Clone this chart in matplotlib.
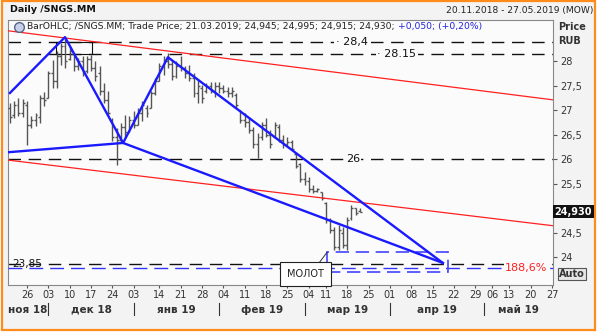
"""
Daily OHLC chart of /SNGS.MM with drawn trend lines and levels.
"""

import numpy as np
import pandas as pd
import matplotlib
matplotlib.use("Agg")
import matplotlib.pyplot as plt
from matplotlib.patches import Rectangle
from matplotlib.transforms import blended_transform_factory

# ---- data -------------------------------------------------------------
holidays = ["2018-12-31", "2019-01-01", "2019-01-02", "2019-01-07",
            "2019-03-08", "2019-05-01", "2019-05-09"]
dates = pd.bdate_range("2018-11-20", "2019-05-27", freq="C", holidays=holidays)

highs = [27.14, 27.18, 27.24, 27.22, 27.18, 26.88, 26.94, 27.30, 27.38, 27.80,
         28.02, 28.20, 28.37, 28.45, 28.30, 28.16, 28.06, 28.10, 28.10, 28.12,
         28.00, 27.90, 27.55, 27.39, 26.84, 26.63, 26.73, 26.90, 26.88, 26.98,
         27.05, 27.18, 27.10, 27.40, 27.65, 27.96, 28.10, 28.16, 28.02, 28.00,
         28.10, 27.90, 27.92, 27.76, 27.61, 27.51, 27.55, 27.57, 27.57, 27.57,
         27.51, 27.47, 27.47, 27.35, 27.00, 26.94, 26.86, 26.65, 26.53, 26.76,
         26.84, 26.59, 26.76, 26.72, 26.49, 26.45, 26.39, 26.12, 25.92, 25.73,
         25.63, 25.47, 25.41, 25.33, 25.12, 24.80, 24.61, 24.65, 24.61, 24.82,
         25.06, 25.00, 24.995]
lows = [26.73, 26.84, 26.88, 26.85, 26.29, 26.63, 26.67, 26.73, 27.08, 27.24,
        27.45, 27.45, 27.92, 27.86, 28.02, 27.80, 27.82, 27.70, 27.75, 27.80,
        27.60, 27.30, 27.14, 26.90, 26.37, 25.88, 26.37, 26.43, 26.55, 26.63,
        26.70, 26.78, 26.85, 27.04, 27.30, 27.59, 27.71, 27.86, 27.61, 27.65,
        27.80, 27.65, 27.60, 27.27, 27.14, 27.14, 27.35, 27.35, 27.27, 27.35,
        27.35, 27.27, 27.27, 27.04, 26.73, 26.65, 26.53, 26.22, 26.02, 26.39,
        26.45, 26.22, 26.43, 26.35, 26.22, 26.24, 26.18, 25.82, 25.53, 25.47,
        25.33, 25.31, 25.33, 25.16, 24.69, 24.49, 24.14, 24.14, 24.18, 24.14,
        24.76, 24.86, 24.915]
opens = [27.05, 26.90, 27.10, 26.95, 27.10, 26.70, 26.80, 26.85, 27.25, 27.25,
         27.75, 27.60, 28.10, 28.30, 28.05, 28.15, 27.90, 28.00, 27.80, 28.05,
         27.85, 27.75, 27.40, 27.20, 26.80, 26.45, 26.40, 26.65, 26.55, 26.80,
         26.70, 26.95, 27.05, 27.05, 27.35, 27.60, 27.90, 28.00, 27.95, 27.70,
         27.90, 27.85, 27.75, 27.65, 27.35, 27.45, 27.40, 27.50, 27.40, 27.50,
         27.45, 27.40, 27.35, 27.30, 27.00, 26.80, 26.75, 26.60, 26.30, 26.45,
         26.70, 26.50, 26.45, 26.65, 26.40, 26.30, 26.35, 26.10, 25.90, 25.60,
         25.55, 25.40, 25.35, 25.33, 25.10, 24.75, 24.55, 24.20, 24.50, 24.25,
         24.80, 25.00, 24.945]
closes = [26.85, 27.10, 26.95, 27.15, 26.70, 26.80, 26.90, 27.25, 27.20, 27.75,
          27.60, 28.10, 28.30, 28.00, 28.20, 27.90, 28.00, 27.75, 28.05, 27.85,
          27.70, 27.40, 27.20, 26.95, 26.45, 26.40, 26.65, 26.55, 26.80, 26.70,
          26.95, 27.10, 26.95, 27.35, 27.60, 27.90, 28.00, 27.95, 27.70, 27.90,
          27.85, 27.75, 27.65, 27.35, 27.50, 27.25, 27.50, 27.40, 27.50, 27.45,
          27.40, 27.35, 27.40, 27.10, 26.80, 26.75, 26.60, 26.30, 26.45, 26.70,
          26.50, 26.30, 26.70, 26.40, 26.30, 26.35, 26.20, 25.85, 25.60, 25.55,
          25.40, 25.35, 25.38, 25.20, 24.75, 24.55, 24.20, 24.55, 24.25, 24.75,
          25.00, 24.90, 24.930]

# drawn objects (x in trading-day positions, y in RUB)
zigzag_x = [0.0, 12.9, 26.5, 37.0, 101.4]
zigzag_y = [27.35, 28.49, 26.33, 28.08, 23.88]
wedge_x = [-0.45, 26.5, 101.4]
wedge_y = [26.14, 26.33, 23.88]
red_upper_y = [28.62, 27.21]
red_lower_y = [25.98, 24.64]
levels = [28.4, 28.15, 26.0, 23.85]
level_labels = ["28,4", "28.15", "26", "23,85"]
fib_level = 23.78
fib_label = "188,6%"
hammer_box = (74.3, 102.6, 23.69, 24.10)
yticks = [24, 24.5, 25.5, 26, 26.5, 27, 27.5, 28]
months = ["ноя 18", "дек 18", "янв 19", "фев 19", "мар 19", "апр 19", "май 19"]

BG = "#f3f3f3"
AX_BG = "#fbfbfb"
BAR = "#555555"
BLUE = "#1a1aff"

# ---- figure -----------------------------------------------------------
W, H = 600, 336
fig = plt.figure(figsize=(W / 100, H / 100), dpi=100, facecolor="white")
fig.add_artist(Rectangle((1.5 / W, 6 / H), 593.5 / W, 329.5 / H,
                         transform=fig.transFigure, facecolor=BG,
                         edgecolor="#ff8c1a", linewidth=1.6, zorder=-10))

ax = fig.add_axes([8 / W, 51 / H, 545 / W, 265 / H], facecolor=AX_BG)
x = np.arange(len(dates))
xmin, xmax = -0.45, 127.2
ax.set_xlim(xmin, xmax)
ax.set_ylim(23.43, 28.84)
for s in ax.spines.values():
    s.set_color("#888888")
    s.set_linewidth(0.8)

# OHLC bars
n = len(highs)
bx = x[:n]
ax.vlines(bx, lows, highs, color=BAR, lw=1, zorder=3)
ax.hlines(opens, bx - 0.45, bx, color=BAR, lw=1, zorder=3)
ax.hlines(closes, bx, bx + 0.45, color=BAR, lw=1, zorder=3)

# horizontal levels
for lv in levels:
    ax.axhline(lv, color="#111111", lw=1, dashes=(9, 5.5), zorder=2)
ax.add_patch(Rectangle((10.7, 28.15), 8.6, 0.25, fill=False,
                       edgecolor="#111111", lw=0.8, zorder=2))
lbl = dict(fontsize=8, va="center", ha="center", color="#111111", zorder=6,
           bbox=dict(boxstyle="square,pad=0.15", fc=AX_BG, ec="none"))
ax.text(80.1, levels[0], "· " + level_labels[0], **lbl)
ax.text(90.6, levels[1], "· " + level_labels[1], **lbl)
ax.text(80.3, levels[2], level_labels[2], **lbl)
ax.text(0.5, levels[3], level_labels[3], fontsize=7.5, va="center",
        ha="left", color="#111111", zorder=6)

# red channel
ax.plot([xmin, xmax], red_upper_y, color="#ff2020", lw=0.9, zorder=4)
ax.plot([xmin, xmax], red_lower_y, color="#ff2020", lw=0.9, zorder=4)

# blue drawings
ax.plot(zigzag_x, zigzag_y, color=BLUE, lw=1.7, zorder=5)
ax.plot(wedge_x, wedge_y, color=BLUE, lw=1.7, zorder=5)
ax.axhline(fib_level, color="#3333ff", lw=1, dashes=(10, 5), zorder=4)
ax.text(120.9, fib_level, fib_label, fontsize=8, color="#ff2020",
        ha="center", va="center", zorder=6,
        bbox=dict(boxstyle="square,pad=0.1", fc=AX_BG, ec="none"))
x0, x1, y0, y1 = hammer_box
ax.add_patch(Rectangle((x0, y0), x1 - x0, y1 - y0, fill=False,
                       edgecolor="#4444ff", lw=1.2, linestyle=(0, (8, 4)),
                       zorder=4))
ax.plot([x0, x0 - 1.9], [y1, y1 - 0.22], color="#333333", lw=0.7, zorder=6)
ax.text(69.3, 23.655, "МОЛОТ", fontsize=7, ha="center", va="center",
        color="#222222", zorder=7,
        bbox=dict(boxstyle="square,pad=0.72", fc="white", ec="#222222",
                  lw=0.8))

# right price axis
ax.yaxis.tick_right()
ax.set_yticks(yticks)
ax.set_yticklabels([f"{v:g}".replace(".", ",") for v in yticks])
ax.tick_params(axis="y", length=3, width=0.8, color="#555555", pad=2,
               labelsize=7, labelcolor="#333333")
ax.text(1.003, closes[-1], f"{closes[-1]:.3f}".replace(".", ","),
        transform=blended_transform_factory(ax.transAxes, ax.transData),
        fontsize=7, fontweight="bold", color="white", va="center",
        ha="left", bbox=dict(boxstyle="square,pad=0.15", fc="#111111",
                             ec="none"), clip_on=False, zorder=8)

# x axis: first trading day of each week (skipping ones too close together)
ser = pd.Series(x, index=dates)
iso = dates.isocalendar()
firsts = ser.groupby([iso.year.values, iso.week.values]).first().values[1:]
weeks = []
for w in firsts:
    if not weeks or w - weeks[-1] >= 4:
        weeks.append(w)
ax.set_xticks(weeks)
ax.set_xticklabels([dates[i].strftime("%d") for i in weeks])
ax.tick_params(axis="x", length=2, width=0.8, color="#555555", pad=1.5,
               labelsize=7, labelcolor="#333333")

# month row
tr = blended_transform_factory(ax.transData, ax.transAxes)
mstarts = ser.groupby([dates.year, dates.month]).first().values
edges = list(mstarts[1:])
bounds = [xmin] + edges + [xmax]
for i, m in enumerate(months):
    ax.text((bounds[i] + bounds[i + 1]) / 2, -0.094, m, transform=tr,
            fontsize=7.5, fontweight="bold", color="#333333",
            ha="center", va="center")
for e in edges:
    ax.plot([e, e], [-0.068, -0.113], transform=tr, color="#333333",
            lw=0.8, clip_on=False)

# header texts
fig.text(10 / W, 1 - 10 / H, "Daily /SNGS.MM", fontsize=6.8,
         fontweight="bold", va="center", ha="left", color="#111111")
fig.text(593 / W, 1 - 10 / H, "20.11.2018 - 27.05.2019 (MOW)", fontsize=6.6,
         va="center", ha="right", color="#222222")
fig.text(558 / W, 1 - 27 / H, "Price", fontsize=7, fontweight="bold",
         va="center", ha="left", color="#333333")
fig.text(558 / W, 1 - 41 / H, "RUB", fontsize=7, fontweight="bold",
         va="center", ha="left", color="#333333")
fig.add_artist(plt.Line2D([19 / W], [1 - 27 / H], marker="o", markersize=7,
                          markerfacecolor="#c8d0e8", markeredgecolor="#556688",
                          transform=fig.transFigure))
t1 = fig.text(27 / W, 1 - 27 / H,
              "BarOHLC; /SNGS.MM; Trade Price; 21.03.2019; 24,945; 24,995; "
              "24,915; 24,930; ", fontsize=6.7, va="center", ha="left",
              color="#222222")
ax.annotate("+0,050; (+0,20%)", xy=(1, 0.5), xycoords=t1, fontsize=6.7,
            va="center", ha="left", color="#2222dd", annotation_clip=False)
fig.text(572 / W, 1 - 274 / H, "Auto", fontsize=7, fontweight="bold",
         va="center", ha="center", color="#333333",
         bbox=dict(boxstyle="square,pad=0.15", fc="#e6e6e6", ec="#555555",
                   lw=0.8))

fig.savefig("out.png", dpi=100, facecolor=fig.get_facecolor())
